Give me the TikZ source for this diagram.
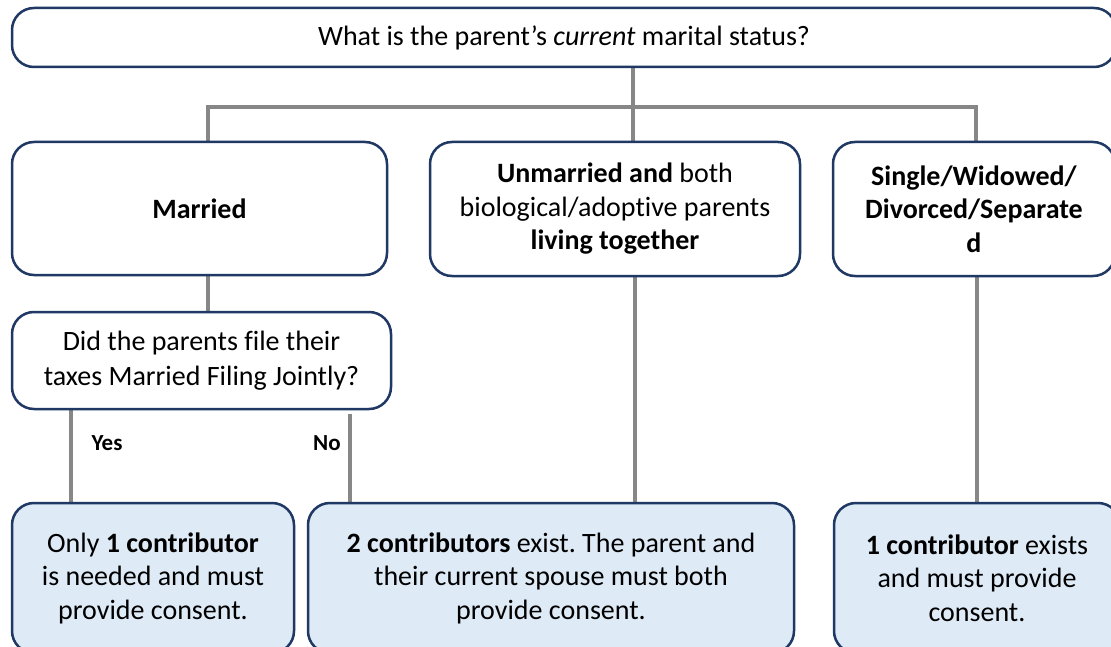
\documentclass[tikz,border=0pt]{standalone}
\usepackage{fontspec}
\setmainfont{Carlito}[Ligatures=NoCommon]
\frenchspacing
\usetikzlibrary{backgrounds}
\definecolor{navy}{HTML}{1F3864}
\definecolor{paleblue}{HTML}{DEEAF6}
\definecolor{conn}{HTML}{878787}
\tikzset{
  box/.style={draw=navy, line width=2.5pt, rounded corners=22pt, fill=white,
    align=center, inner sep=0pt, font=\fontsize{28}{33.5}\selectfont},
  endbox/.style={box, fill=paleblue},
  link/.style={draw=conn, line width=3.5pt},
  lbl/.style={font=\bfseries\fontsize{23}{26}\selectfont, inner sep=0pt}
}
\begin{document}
\begin{tikzpicture}[x=1pt,y=-1pt]
\path[use as bounding box, clip] (0,0) rectangle (1111,647);

\node[box, minimum width=1104pt, minimum height=59pt] (top) at (564,37.5)
  {What is the parent’s \textit{current} marital status?};
\node[box, minimum width=375pt, minimum height=133pt] (married) at (199.5,208.5)
  {\textbf{Married}};
\node[box, minimum width=370pt, minimum height=134pt] (unmarried) at (615,209)
  {\textbf{Unmarried and} both\\biological/adoptive parents\\\textbf{living together}};
\node[box, minimum width=282pt, minimum height=134pt] (single) at (974,209)
  {\textbf{Single/Widowed/}\\\textbf{Divorced/Separate}\\\textbf{d}};
\node[box, minimum width=379pt, minimum height=97pt, font=\fontsize{28}{35}\selectfont] (question) at (201.5,360.5)
  {Did the parents file their\\taxes Married Filing Jointly?};
\node[endbox, minimum width=282pt, minimum height=150pt] (one) at (153,578)
  {Only \textbf{1 contributor}\\is needed and must\\provide consent.};
\node[endbox, minimum width=486pt, minimum height=150pt] (two) at (551,578)
  {\textbf{2 contributors} exist. The parent and\\their current spouse must both\\provide consent.};
\node[endbox, minimum width=286pt, minimum height=150pt] (solo) at (977,578)
  {\textbf{1 contributor} exists\\and must provide\\consent.};

\coordinate (jl) at (208,107);
\coordinate (jm) at (633,107);
\coordinate (jr) at (976,107);
\coordinate (xy) at (71,0);
\coordinate (xn) at (350,0);
\coordinate (xu) at (635,0);
\coordinate (xs) at (977,0);

\begin{scope}[on background layer]
\fill[white] (0,0) rectangle (1111,647);
\draw[link] (top.south -| jm) -- (unmarried.north -| jm);
\draw[link] (married.north -| jl) -- (jl) -- (jr) -- (single.north -| jr);
\draw[link] (married.south -| jl) -- (question.north -| jl);
\draw[link] (question.south -| xy) -- (one.north -| xy);
\draw[link] ([yshift=-4pt]question.south -| xn) -- (two.north -| xn);
\draw[link] (unmarried.south -| xu) -- (two.north -| xu);
\draw[link] (single.south -| xs) -- (solo.north -| xs);
\end{scope}

\node[lbl] (yes) at (107,443) {Yes};
\node[lbl] (no) at (327,443) {No};
\end{tikzpicture}
\end{document}
